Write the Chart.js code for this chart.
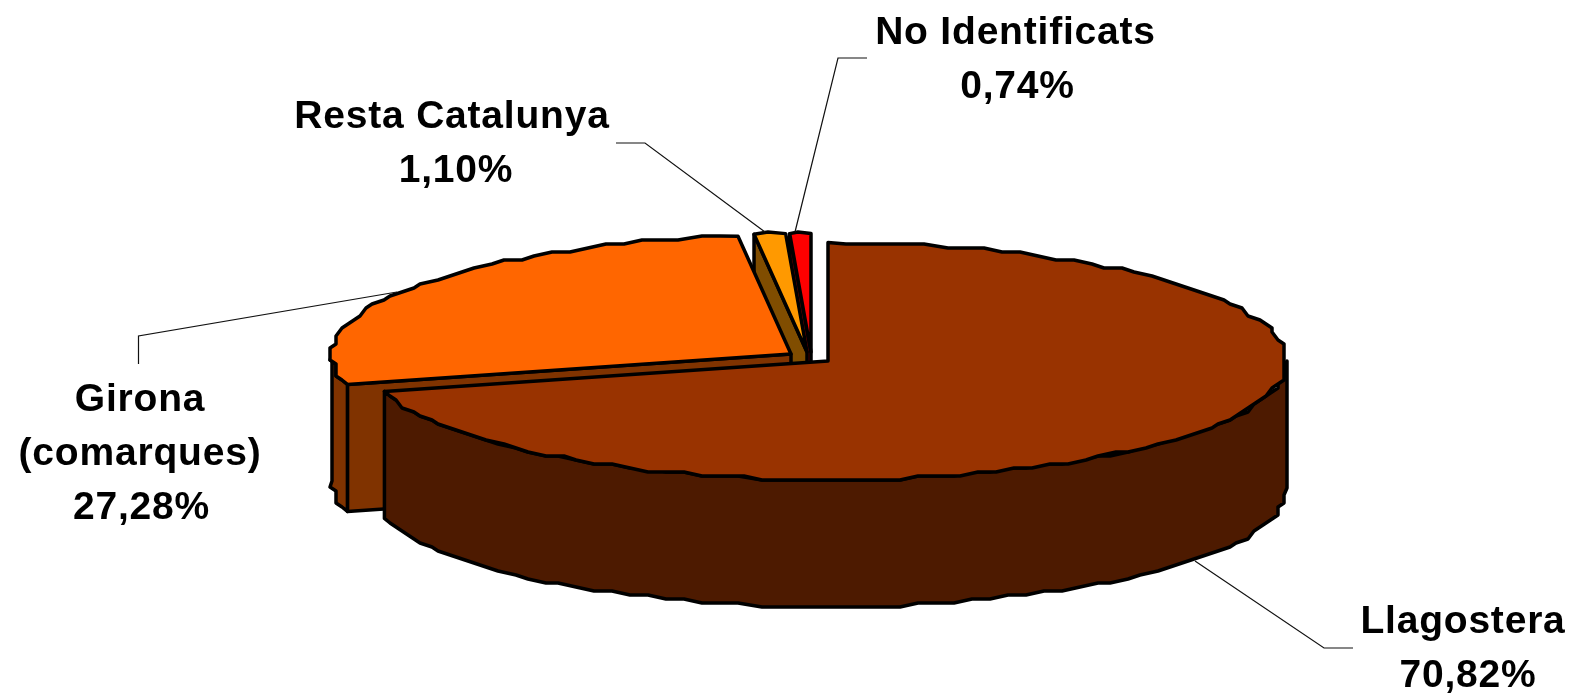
<!DOCTYPE html>
<html><head><meta charset="utf-8">
<style>html,body{margin:0;padding:0;background:#fff}#w{width:1572px;height:693px;position:relative}</style>
<script src="https://cdn.jsdelivr.net/npm/chart.js@4"></script>
</head><body><div id="w"><canvas id="c"></canvas></div>
<script>
const categories = ['Llagostera', 'Girona (comarques)', 'Resta Catalunya', 'No Identificats'];
const values = [70.82, 27.28, 1.10, 0.74];
const labelLines = [['Llagostera'], ['Girona', '(comarques)'], ['Resta Catalunya'], ['No Identificats']];
const topColors = ['#993300', '#ff6600', '#ff9900', '#ff0000'];
const wallColors = ['#4d1a00', '#803300', '#804d00', '#800000'];
const explodeX = [0, -37, -21, -17];
const explodeY = [0, -7, -9, -9];
const labelX = [1463, 140, 452, 1015.5];
const labelY = [622, 400, 117, 33];
const valueDX = [5, 1.5, 4, 2];
const leaders = [
  [[1195,561],[1324,648],[1353,648]],
  [[397,292],[138.5,336],[138.5,364]],
  [[765,232],[645,143],[616,143]],
  [[795,232],[838,58],[867,58]]
];
const CX = 828, CY = 361, RX = 459, RY = 118.5, DEPTH = 127;
const GX = 6, GY = 4, STEP = Math.PI / 72;

function fmt(v){ return v.toFixed(2).replace('.', ',') + '%'; }

function rimPoints(ax, ay, a0, a1){
  const pts = [];
  const n = Math.max(1, Math.ceil((a1 - a0) / STEP));
  for (let i = 0; i <= n; i++){
    const t = a0 + (a1 - a0) * i / n;
    let x = ax + RX * Math.cos(t), y = ay + RY * Math.sin(t);
    if (i > 0 && i < n){ x = Math.round(x / GX) * GX; y = Math.round(y / GY) * GY; }
    pts.push([x, y]);
  }
  return pts;
}
function poly(ctx, pts, fill){
  ctx.beginPath();
  pts.forEach((p, i) => i ? ctx.lineTo(p[0], p[1]) : ctx.moveTo(p[0], p[1]));
  ctx.closePath();
  ctx.fillStyle = fill; ctx.fill(); ctx.stroke();
}

const pie3d = {
  id: 'pie3d',
  beforeDatasetDraw(chart){
    const ctx = chart.ctx, arcs = chart.getDatasetMeta(0).data;
    ctx.save();
    ctx.lineWidth = 3.5; ctx.lineJoin = 'round'; ctx.strokeStyle = '#000';
    for (let i = arcs.length - 1; i >= 0; i--){
      const a0 = arcs[i].startAngle, a1 = arcs[i].endAngle;
      const ax = CX + explodeX[i], ay = CY + explodeY[i];
      const rim = rimPoints(ax, ay, a0, a1);
      const down = p => [p[0], p[1] + DEPTH];
      if (Math.cos(a0) < -1e-6){
        const s = rim[0];
        poly(ctx, [s, [ax, ay], down([ax, ay]), down(s)], wallColors[i]);
      }
      if (Math.cos(a1) > 1e-6){
        const e = rim[rim.length - 1];
        poly(ctx, [e, [ax, ay], down([ax, ay]), down(e)], wallColors[i]);
      }
      const w0 = Math.max(a0, 0), w1 = Math.min(a1, Math.PI);
      if (w1 > w0){
        const front = rimPoints(ax, ay, w0, w1);
        poly(ctx, front.concat(front.slice().reverse().map(down)), wallColors[i]);
      }
      poly(ctx, [[ax, ay]].concat(rim), topColors[i]);
    }
    ctx.restore();
    return false;
  },
  afterDatasetsDraw(chart){
    const ctx = chart.ctx;
    ctx.save();
    ctx.strokeStyle = '#111'; ctx.lineWidth = 1.2;
    leaders.forEach(l => {
      ctx.beginPath();
      l.forEach((p, i) => i ? ctx.lineTo(p[0], p[1]) : ctx.moveTo(p[0], p[1]));
      ctx.stroke();
    });
    ctx.fillStyle = '#000'; ctx.textAlign = 'center'; ctx.textBaseline = 'middle';
    ctx.font = 'bold 39px "Liberation Sans", Arial, sans-serif';
    ctx.letterSpacing = '0.8px';
    categories.forEach((c, i) => {
      labelLines[i].forEach((t, j) => ctx.fillText(t, labelX[i], labelY[i] + j * 54));
      ctx.fillText(fmt(values[i]), labelX[i] + valueDX[i], labelY[i] + labelLines[i].length * 54);
    });
    ctx.restore();
  }
};

new Chart(document.getElementById('c'), {
  type: 'pie',
  data: { labels: categories, datasets: [{ data: values, backgroundColor: topColors, borderWidth: 0 }] },
  options: {
    responsive: true, maintainAspectRatio: false, animation: false,
    events: [],
    plugins: { legend: { display: false }, tooltip: { enabled: false } }
  },
  plugins: [pie3d]
});
</script></body></html>
